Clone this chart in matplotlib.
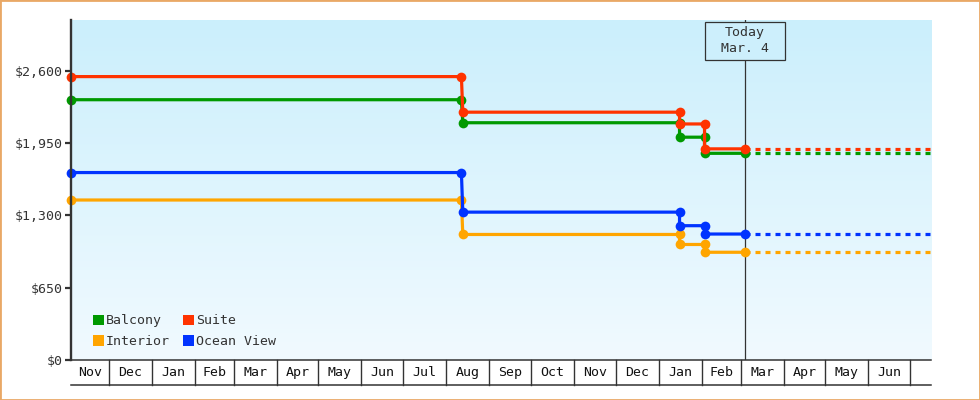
import datetime as dt
import numpy as np
import matplotlib
matplotlib.use("Agg")
import matplotlib.pyplot as plt
import matplotlib.dates as mdates
from matplotlib.patches import Rectangle, Patch
from matplotlib.transforms import ScaledTranslation

# ---- data -------------------------------------------------------------
start_date = dt.date(2016, 11, 4)
end_date = dt.date(2018, 7, 16)
today = dt.date(2018, 3, 4)
today_label = "Today\nMar. 4"

# price changes: last day at the old price, first day at the new price
change_from = [dt.date(2017, 8, 12), dt.date(2018, 1, 16), dt.date(2018, 2, 3)]
change_to = [dt.date(2017, 8, 13), dt.date(2018, 1, 16), dt.date(2018, 2, 3)]

series_names = ["Balcony", "Interior", "Suite", "Ocean View"]
balcony = [2341, 2134, 2004, 1859]
interior = [1439, 1129, 1039, 969]
suite = [2549, 2229, 2123, 1899]
ocean_view = [1686, 1330, 1208, 1133]
series_values = [balcony, interior, suite, ocean_view]
series_colors = ["#009900", "#FFA500", "#FF3300", "#0033FF"]

y_ticks = [0, 650, 1300, 1950, 2600]
y_max = 3058

# ---- style --------------------------------------------------------------
FONT = "DejaVu Sans Mono"
FS = 9.5
INK = "#333333"
plt.rcParams["font.family"] = FONT
plt.rcParams["lines.scale_dashes"] = False

W, H = 980, 400
fig = plt.figure(figsize=(W / 100, H / 100), dpi=100)
fig.patch.set_facecolor("white")

L, R, T, B = 71, 931, 20, 360
ax = fig.add_axes([L / W, 1 - B / H, (R - L) / W, (B - T) / H])

# vertical gradient background
grad = np.linspace(0, 1, 256)[:, None]
top_c = np.array([203, 239, 252]) / 255
bot_c = np.array([241, 250, 255]) / 255
img = top_c[None, None, :] * (1 - grad[..., None]) + bot_c[None, None, :] * grad[..., None]
img = np.repeat(img, 2, axis=1)
ax.imshow(img, extent=[0, 1, 0, 1], transform=ax.transAxes, aspect="auto",
          zorder=0, interpolation="bilinear")

x0 = mdates.date2num(start_date)
x1 = mdates.date2num(end_date)
xt = mdates.date2num(today)
ax.set_xlim(x0, x1)
ax.set_ylim(0, y_max)

# ---- series -------------------------------------------------------------
order = [1, 3, 0, 2]  # draw suite and ocean view on top
for i in order:
    vals = series_values[i]
    col = series_colors[i]
    xs = [start_date]
    ys = [vals[0]]
    for k in range(len(change_from)):
        xs += [change_from[k], change_to[k]]
        ys += [vals[k], vals[k + 1]]
    xs.append(today)
    ys.append(vals[-1])
    ax.plot(mdates.date2num(xs), ys, color=col, lw=2.3, marker="o",
            markersize=7, markeredgewidth=0, zorder=3 + i * 0.1,
            solid_joinstyle="miter", clip_on=False)
    ax.plot([xt, x1], [vals[-1], vals[-1]], color=col, lw=2.3,
            dashes=(3.6, 3.6), zorder=3, dash_capstyle="butt")

# ---- today marker ------------------------------------------------------
ax.axvline(xt, color=INK, lw=0.9, zorder=2.5)
anchor = ScaledTranslation(xt, 1.0, ax.get_xaxis_transform())
box_tr = fig.dpi_scale_trans + anchor
ax.add_patch(Rectangle((-0.40, -0.40), 0.80, 0.385, transform=box_tr,
                       facecolor="#CDEFFC", edgecolor=INK, lw=0.9,
                       zorder=4, clip_on=False))
ax.text(0, -0.205, today_label, transform=box_tr, ha="center", va="center",
        multialignment="center", fontsize=FS, color=INK, linespacing=1.32,
        zorder=5)

# ---- axes styling ------------------------------------------------------
for s in ["top", "right"]:
    ax.spines[s].set_visible(False)
ax.spines["left"].set_color(INK)
ax.spines["left"].set_linewidth(1.7)
ax.spines["bottom"].set_color(INK)
ax.spines["bottom"].set_linewidth(1.1)
ax.spines["left"].set_zorder(6)

ax.set_yticks(y_ticks)
ax.set_yticklabels(["$" + format(v, ",") for v in y_ticks])
ax.tick_params(axis="y", length=4.5, width=1.6, color=INK, labelcolor=INK,
               labelsize=FS, pad=1.5)
ax.set_xticks([])

# month strip beneath the axis
xtr = ax.get_xaxis_transform()
strip_h = 25 / (B - T)
months = []
y, m = start_date.year, start_date.month
while dt.date(y, m, 1) <= end_date:
    months.append(dt.date(y, m, 1))
    m += 1
    if m == 13:
        y, m = y + 1, 1
for k, ms in enumerate(months):
    a = mdates.date2num(ms)
    nxt = months[k + 1] if k + 1 < len(months) else None
    b = mdates.date2num(nxt) if nxt else x1
    if a > x0:
        ax.plot([a, a], [0, -strip_h], transform=xtr, color=INK, lw=1.0,
                clip_on=False, zorder=6)
    lo, hi = max(a, x0), min(b, x1)
    if hi - lo > 20:
        ax.text((lo + hi) / 2, -strip_h / 2, ms.strftime("%b"), transform=xtr,
                ha="center", va="center", fontsize=FS, color="#111111")
ax.plot([x0, x1], [-strip_h, -strip_h], transform=xtr, color=INK, lw=1.1,
        clip_on=False, zorder=6)

# ---- legend ---------------------------------------------------------------
handles = [Patch(facecolor=c, edgecolor="none") for c in series_colors]
leg = ax.legend(handles, series_names, ncol=2, frameon=False, loc="lower left",
                bbox_to_anchor=(22 / (R - L), 12 / (B - T)), borderaxespad=0,
                borderpad=0, fontsize=FS, handlelength=0.85, handleheight=0.85,
                handletextpad=0.12, columnspacing=1.0, labelspacing=0.58)
for t in leg.get_texts():
    t.set_color(INK)

# figure border
fig.add_artist(Rectangle((0, 0), 1, 1, transform=fig.transFigure, fill=False,
                         edgecolor="#E9A866", lw=2.0))

fig.savefig("out.png", dpi=100)
